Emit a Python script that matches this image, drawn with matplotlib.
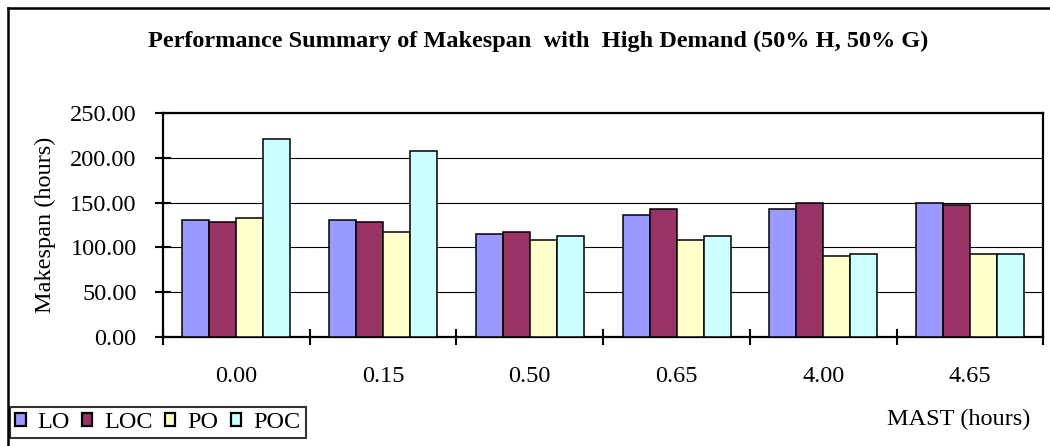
import matplotlib
matplotlib.use("Agg")
import matplotlib.pyplot as plt
import numpy as np
from matplotlib.lines import Line2D
from matplotlib.ticker import FixedLocator, FormatStrFormatter

plt.rcParams['font.family'] = ['Liberation Serif', 'DejaVu Serif']

# Makespan per MAST setting for each strategy
mast = ['0.00', '0.15', '0.50', '0.65', '4.00', '4.65']
lo = [130.1, 130.1, 114.5, 136.7, 143.3, 150.0]
loc = [127.8, 127.8, 116.8, 143.3, 150.0, 147.8]
po = [132.3, 116.8, 107.9, 107.9, 90.1, 92.4]
poc = [220.9, 207.6, 112.3, 112.3, 92.4, 92.4]

series = [('LO', lo, '#9999FF'), ('LOC', loc, '#993366'),
          ('PO', po, '#FFFFCC'), ('POC', poc, '#CCFFFF')]

fig = plt.figure(figsize=(10.5, 4.46), dpi=100)
ax = fig.add_axes([163 / 1050, 1 - 336.7 / 446, (1043.3 - 163) / 1050, (336.7 - 113.3) / 446])

x = np.arange(len(mast))
w = 0.184
for i, (name, vals, col) in enumerate(series):
    ax.bar(x + (i - 1.5) * w, vals, width=w, color=col, edgecolor='black',
           linewidth=1.1, label=name, zorder=3)

ax.set_xlim(-0.5, len(mast) - 0.5)
ax.set_ylim(0, 250)
ax.set_yticks(np.arange(0, 251, 50))
ax.yaxis.set_major_formatter(FormatStrFormatter('%.2f'))
ax.yaxis.grid(True, color='black', linewidth=0.8, zorder=0)

# ticks on category boundaries, labels at category centres
ax.xaxis.set_major_locator(FixedLocator(np.arange(-0.5, len(mast), 1.0)))
ax.xaxis.set_minor_locator(FixedLocator(x))
ax.set_xticklabels([], minor=False)
ax.set_xticklabels(mast, minor=True)
ax.tick_params(axis='x', which='major', direction='inout', length=12, width=1.5)
ax.tick_params(axis='x', which='minor', length=0, pad=21, labelsize=17.5)
ax.tick_params(axis='y', direction='inout', length=12, width=1.5, pad=13, labelsize=17.5)

for s in ax.spines.values():
    s.set_linewidth(1.6)

fig.text(538.5 / 1050, 1 - 41 / 446,
         'Performance Summary of Makespan  with  High Demand (50% H, 50% G)',
         ha='center', va='center', fontsize=17.5, fontweight='bold')
fig.text(45 / 1050, 1 - 225 / 446, 'Makespan (hours)', rotation=90,
         ha='center', va='center', fontsize=17.5)
fig.text(959 / 1050, 1 - 419 / 446, 'MAST (hours)', ha='center', va='center', fontsize=17.5)

leg = fig.legend(loc='lower left', bbox_to_anchor=(10 / 1050, 1 - 438.3 / 446),
                 ncol=4, fontsize=17.5, frameon=True, fancybox=False,
                 handlelength=0.42, handleheight=0.42, handletextpad=0.5,
                 columnspacing=0.5, borderpad=0.22, borderaxespad=0)
leg.get_frame().set_edgecolor('black')
leg.get_frame().set_linewidth(1.5)
for h in leg.legend_handles:
    h.set_linewidth(1.6)

# outer chart border (left and top edges)
fig.add_artist(Line2D([8 / 1050, 8 / 1050], [0, 1 - 8 / 446], color='black', linewidth=1.8,
                      transform=fig.transFigure))
fig.add_artist(Line2D([8 / 1050, 1], [1 - 8 / 446, 1 - 8 / 446], color='black', linewidth=1.8,
                      transform=fig.transFigure))

fig.savefig('out.png', dpi=100)
